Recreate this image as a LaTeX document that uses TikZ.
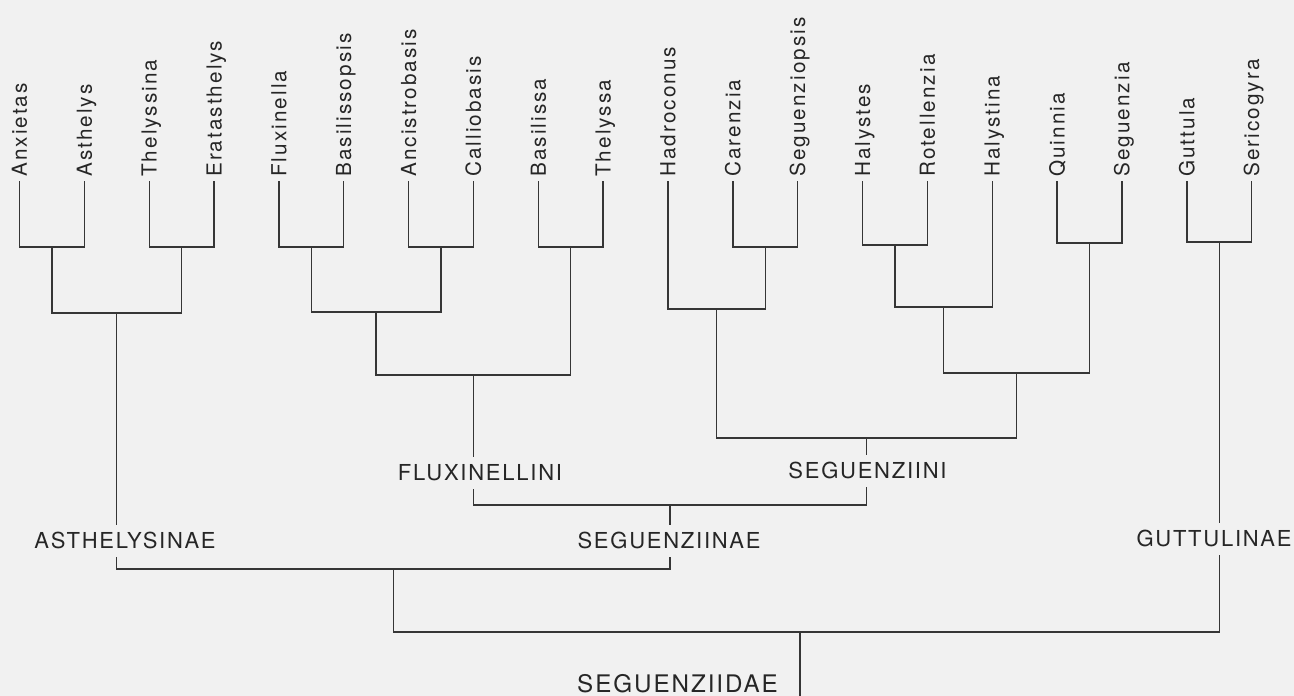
\documentclass[tikz,border=0pt]{standalone}
\usepackage{fontspec}
\setmainfont{TeX Gyre Heros}
\newfontfamily\tipfont[LetterSpace=10]{TeX Gyre Heros}
\newfontfamily\grpfont[LetterSpace=8]{TeX Gyre Heros}
\usetikzlibrary{calc}
\definecolor{bg}{HTML}{F1F1F1}
\definecolor{ink}{HTML}{363636}
\definecolor{txt}{HTML}{262626}
\newcommand\mkjoin[4]{\coordinate (#1m) at ($(#2)!.5!(#3)$);\coordinate (#1) at (#1m |- 0,#4);}
\begin{document}
\begin{tikzpicture}[x=1pt,y=-1pt,
  branch/.style={draw=ink, line width=1.4pt},
  tip/.style={rotate=90, anchor=west, inner xsep=4pt, inner ysep=0pt,
    text height=14.9pt, text depth=0pt, text=txt,
    font=\tipfont\fontsize{20.7}{24}\selectfont},
  grp/.style={fill=bg, text=txt, inner xsep=0pt, inner ysep=8pt,
    text height=15.8pt, text depth=0pt,
    font=\grpfont\fontsize{22}{26}\selectfont},
  rootlbl/.style={text=txt, inner sep=0pt, text height=17.4pt, text depth=0pt,
    font=\grpfont\fontsize{24.2}{28}\selectfont}]
\useasboundingbox (0,0) rectangle (1294,696);
\fill[bg] (0,0) rectangle (1294,696);
% tips
\foreach \n/\lab [count=\i from 0] in {t0/Anxietas,t1/Asthelys,t2/Thelyssina,t3/Eratasthelys,t4/Fluxinella,t5/Basilissopsis,t6/Ancistrobasis,t7/Calliobasis,t8/Basilissa,t9/Thelyssa,t10/Hadroconus,t11/Carenzia,t12/Seguenziopsis,t13/Halystes,t14/Rotellenzia,t15/Halystina,t16/Quinnia,t17/Seguenzia,t18/Guttula,t19/Sericogyra}
  \node[tip] (\n) at ({19.5+64.85*\i},181) {\lab};
% joins
\mkjoin{A1}{t0.west}{t1.west}{247}
\mkjoin{A2}{t2.west}{t3.west}{247}
\mkjoin{A}{A1}{A2}{313}
\mkjoin{F1}{t4.west}{t5.west}{247}
\mkjoin{F2}{t6.west}{t7.west}{247}
\mkjoin{F12}{F1}{F2}{312}
\mkjoin{F3}{t8.west}{t9.west}{247}
\mkjoin{F}{F12}{F3}{375}
\mkjoin{S1}{t11.west}{t12.west}{247}
\mkjoin{S2}{t10.west}{S1}{309}
\mkjoin{S3}{t13.west}{t14.west}{245}
\mkjoin{S4}{S3}{t15.west}{307}
\mkjoin{S5}{t16.west}{t17.west}{243}
\mkjoin{S6}{S4}{S5}{373}
\mkjoin{S}{S2}{S6}{438}
\mkjoin{SE}{F}{S}{505}
\mkjoin{AS}{A}{SE}{569}
\mkjoin{G}{t18.west}{t19.west}{242}
\coordinate (R) at (800,632);
\coordinate (Rend) at (800,696);
% branches
\draw[branch] (t0.west) |- (A1) -| (t1.west);
\draw[branch] (t2.west) |- (A2) -| (t3.west);
\draw[branch] (A1) |- (A) -| (A2);
\draw[branch] (t4.west) |- (F1) -| (t5.west);
\draw[branch] (t6.west) |- (F2) -| (t7.west);
\draw[branch] (F1) |- (F12) -| (F2);
\draw[branch] (t8.west) |- (F3) -| (t9.west);
\draw[branch] (F12) |- (F) -| (F3);
\draw[branch] (t11.west) |- (S1) -| (t12.west);
\draw[branch] (t10.west) |- (S2) -| (S1);
\draw[branch] (t13.west) |- (S3) -| (t14.west);
\draw[branch] (S3) |- (S4) -| (t15.west);
\draw[branch] (t16.west) |- (S5) -| (t17.west);
\draw[branch] (S4) |- (S6) -| (S5);
\draw[branch] (S2) |- (S) -| (S6);
\draw[branch] (F) |- (SE) -| (S);
\draw[branch] (A) |- (AS) -| (SE);
\draw[branch] (t18.west) |- (G) -| (t19.west);
\draw[branch] (AS) |- (R) -| (G);
\draw[branch] (R) -- (Rend);
% group labels
\node[grp] (lAst) at (125,541) {ASTHELYSINAE};
\node[grp] (lFlu) at (480,473) {FLUXINELLINI};
\node[grp] (lSgi) at (867.5,471) {SEGUENZIINI};
\node[grp] (lSgn) at (669,541) {SEGUENZIINAE};
\node[grp] (lGut) at (1214,539) {GUTTULINAE};
\node[rootlbl] (lRoot) at (677.5,684) {SEGUENZIIDAE};
\end{tikzpicture}
\end{document}
